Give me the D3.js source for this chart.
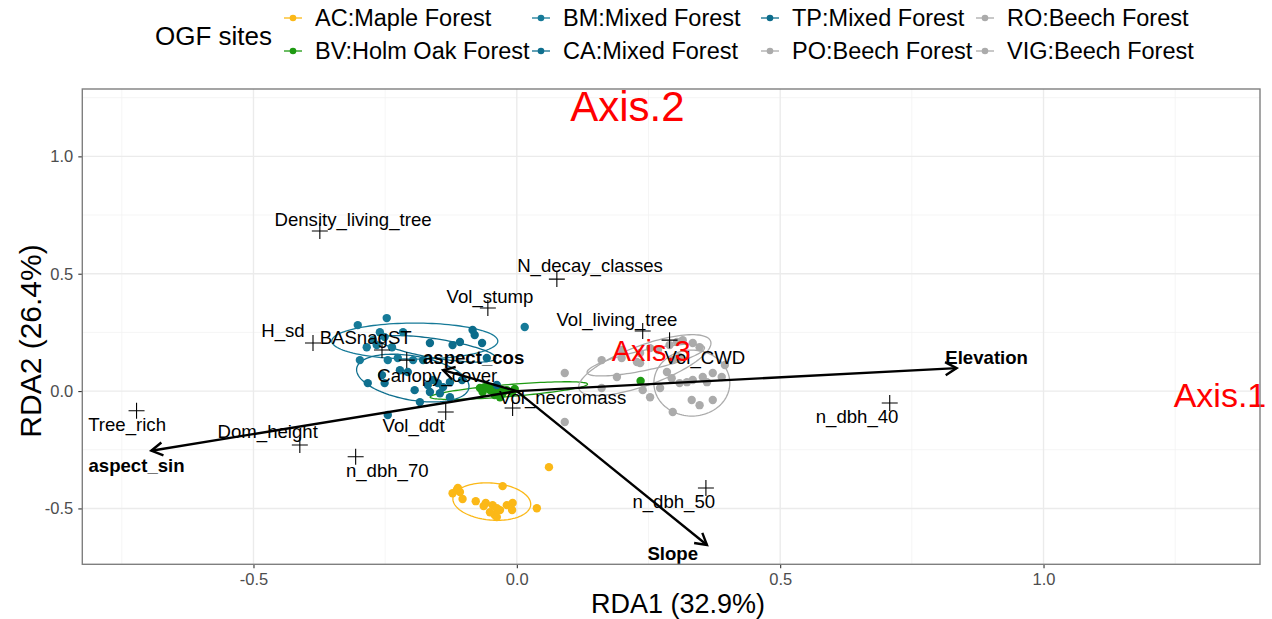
<!DOCTYPE html>
<html>
<head>
<meta charset="utf-8">
<script src="https://cdn.jsdelivr.net/npm/d3@7"></script>
<style>
  body { margin: 0; background: #fff; }
  text { font-family: "Liberation Sans", Arial, Helvetica, sans-serif; }
</style>
</head>
<body>
<svg id="chart" width="1272" height="619"></svg>
<script>
// ---- Site groups (legend order) ----
const siteNames = ["AC:Maple Forest", "BV:Holm Oak Forest", "BM:Mixed Forest", "CA:Mixed Forest",
                   "TP:Mixed Forest", "PO:Beech Forest", "RO:Beech Forest", "VIG:Beech Forest"];
const siteKeys = ["AC", "BV", "BM", "CA", "TP", "PO", "RO", "VIG"];
const siteColors = ["#FBB817", "#1E9A12", "#167A98", "#0F6F8E", "#0C6C8B", "#ABABAB", "#ABABAB", "#ABABAB"];

// ---- Site scores (RDA1, RDA2) ----
const acX = [0.061, -0.114, -0.122, -0.108, -0.103, -0.078, -0.059, -0.046, -0.038, -0.027, -0.019, -0.008, -0.009, -0.032, -0.042, -0.038, 0.038, -0.051, -0.063, -0.112];
const acY = [-0.324, -0.422, -0.435, -0.430, -0.460, -0.469, -0.477, -0.486, -0.499, -0.405, -0.486, -0.477, -0.507, -0.507, -0.528, -0.537, -0.499, -0.516, -0.490, -0.413];

const bvX = [-0.070, -0.061, -0.051, -0.046, -0.038, -0.032, -0.042, -0.027, -0.019, -0.009, -0.004, -0.065, -0.032, -0.057, 0.235];
const bvY = [0.013, 0.017, 0.004, 0.013, -0.004, 0.004, -0.017, -0.009, 0.004, -0.004, 0.009, -0.004, -0.026, 0.017, 0.043];

const bmX = [-0.247, -0.302, -0.260, -0.216, -0.273, -0.251, -0.266, -0.237, -0.285, -0.298, -0.245, -0.226, -0.197, 0.015];
const bmY = [0.311, 0.281, 0.251, 0.251, 0.217, 0.230, 0.196, 0.187, 0.187, 0.132, 0.132, 0.141, 0.132, 0.273];

const caX = [-0.256, -0.251, -0.283, -0.207, -0.194, -0.169, -0.159, -0.150, -0.140, -0.127, -0.165, -0.184, -0.127, -0.245, -0.146, -0.222];
const caY = [0.068, 0.034, 0.034, 0.081, 0.004, 0.026, 0.047, 0.034, 0.017, 0.038, -0.004, -0.047, -0.026, -0.102, -0.009, 0.089];

const tpX = [-0.165, -0.122, -0.108, -0.084, -0.080, -0.066, -0.178, -0.057, -0.104, -0.038];
const tpY = [0.205, 0.196, 0.209, 0.260, 0.239, 0.205, 0.132, 0.141, 0.047, 0.026];

const poX = [0.161, 0.091, 0.190, 0.161, 0.239, 0.199, 0.228, 0.234, 0.253, 0.268, 0.234, 0.199, 0.091, 0.296, 0.309];
const poY = [0.132, 0.077, 0.060, 0.013, 0.004, 0.175, 0.124, 0.162, 0.183, 0.175, 0.119, 0.141, -0.132, 0.132, 0.145];

const roX = [0.253, 0.272, 0.285, 0.294, 0.309, 0.323, 0.334, 0.353, 0.361, 0.372, 0.389, 0.332, 0.347, 0.372, 0.296];
const roY = [-0.026, 0.013, 0.081, 0.055, 0.034, 0.038, 0.047, 0.060, 0.038, 0.077, 0.060, -0.038, -0.060, -0.038, -0.089];

const vigX = [0.290, 0.304, 0.315, 0.334, 0.347, 0.395];
const vigY = [0.196, 0.209, 0.217, 0.205, 0.187, 0.111];

// ---- Group ellipses: centre and two conjugate semi-axis vectors ----
const ellSite = ["AC", "BV", "BM", "CA", "TP", "PO", "RO", "VIG"];
const ellCx = [-0.0475, -0.0152, -0.1937, -0.1975, -0.150, 0.243, 0.3323, 0.2449];
const ellCy = [-0.4708, 0.0021, 0.2130, 0.0554, 0.180, 0.1108, 0.0341, 0.1321];
const ellUx = [0.0738, 0.1494, 0.1576, 0.1065, 0.110, 0.1249, 0.0721, 0.1114];
const ellUy = [-0.0145, 0.0277, 0.0000, -0.0422, -0.040, 0.1018, 0.0000, 0.0533];
const ellVx = [-0.0031, 0.0009, 0.0000, -0.0072, 0.004, 0.0129, 0.0000, 0.0040];
const ellVy = [-0.0785, -0.0255, 0.0767, -0.0925, 0.040, -0.0801, 0.1406, -0.0418];

// ---- Response variables (species scores) ----
const varNames = ["Density_living_tree", "N_decay_classes", "Vol_stump", "Vol_living_tree", "H_sd", "BASnagST",
                  "Canopy_cover", "Vol_ddt", "Vol_necromass", "Vol_CWD", "Tree_rich", "Dom_height",
                  "n_dbh_70", "n_dbh_50", "n_dbh_40"];
const varX = [-0.374, 0.076, -0.055, 0.239, -0.387, -0.256, -0.209, -0.135, -0.008, 0.290, -0.722, -0.412, -0.306, 0.359, 0.708];
const varY = [0.682, 0.477, 0.354, 0.256, 0.205, 0.175, 0.132, -0.089, -0.072, 0.217, -0.084, -0.230, -0.280, -0.413, -0.051];
const varLabX = [-0.311, 0.139, -0.051, 0.190, -0.444, -0.287, -0.151, -0.196, 0.087, 0.357, -0.740, -0.473, -0.246, 0.298, 0.646];
const varLabY = [0.733, 0.533, 0.401, 0.307, 0.256, 0.230, 0.068, -0.145, -0.026, 0.145, -0.141, -0.173, -0.337, -0.469, -0.107];

// ---- Explanatory variables (biplot arrows) ----
const envNames = ["Elevation", "aspect_sin", "Slope", "aspect_cos"];
const envX = [0.835, -0.694, 0.361, -0.140];
const envY = [0.098, -0.254, -0.656, 0.089];
const envLabX = [0.892, -0.722, 0.296, -0.082];
const envLabY = [0.145, -0.315, -0.694, 0.141];

// ---- Axis ticks ----
const xTicks = [-0.5, 0.0, 0.5, 1.0];
const yTicks = [-0.5, 0.0, 0.5, 1.0];
const xMinor = [-0.75, -0.25, 0.25, 0.75, 1.25];
const yMinor = [-0.25, 0.25, 0.75, 1.25];

// ---- Axis annotations ----
const axisNotes = ["Axis.2", "Axis.1", "Axis.3"];
const axisNoteX = [0.210, 1.335, 0.255];
const axisNoteY = [1.212, -0.016, 0.170];
const axisNoteSize = [42, 34, 29];

// ================== drawing ==================
const svg = d3.select("#chart");
const panel = { left: 82.3, right: 1260, top: 89, bottom: 564.3 };

const x = d3.scaleLinear().domain([-0.825, 1.411]).range([panel.left, panel.right]);
const y = d3.scaleLinear().domain([-0.738, 1.287]).range([panel.bottom, panel.top]);

const colorOf = d3.scaleOrdinal().domain(siteKeys).range(siteColors);

// grid
const grid = svg.append("g");
grid.selectAll("line.xmin").data(xMinor).join("line")
  .attr("x1", d => x(d)).attr("x2", d => x(d)).attr("y1", panel.top).attr("y2", panel.bottom)
  .attr("stroke", "#F2F2F2").attr("stroke-width", 0.8);
grid.selectAll("line.ymin").data(yMinor).join("line")
  .attr("y1", d => y(d)).attr("y2", d => y(d)).attr("x1", panel.left).attr("x2", panel.right)
  .attr("stroke", "#F2F2F2").attr("stroke-width", 0.8);
grid.selectAll("line.xmaj").data(xTicks).join("line")
  .attr("x1", d => x(d)).attr("x2", d => x(d)).attr("y1", panel.top).attr("y2", panel.bottom)
  .attr("stroke", "#EBEBEB").attr("stroke-width", 1.4);
grid.selectAll("line.ymaj").data(yTicks).join("line")
  .attr("y1", d => y(d)).attr("y2", d => y(d)).attr("x1", panel.left).attr("x2", panel.right)
  .attr("stroke", "#EBEBEB").attr("stroke-width", 1.4);

// axes
const xAxis = svg.append("g").attr("transform", `translate(0,${panel.bottom})`)
  .call(d3.axisBottom(x).tickValues(xTicks).tickFormat(d3.format(".1f")).tickSize(4).tickPadding(5));
const yAxis = svg.append("g").attr("transform", `translate(${panel.left},0)`)
  .call(d3.axisLeft(y).tickValues(yTicks).tickFormat(d3.format(".1f")).tickSize(4).tickPadding(5));
[xAxis, yAxis].forEach(a => {
  a.select(".domain").remove();
  a.selectAll(".tick line").attr("stroke", "#333333").attr("stroke-width", 1.1);
  a.selectAll(".tick text").attr("fill", "#4D4D4D").style("font-size", "16.5px")
    .style("font-family", '"Liberation Sans", Arial, sans-serif')
    .text(d => d3.format(".1f")(d).replace("−", "-"));
});

// ellipses
const ellLine = d3.line().curve(d3.curveLinearClosed);
const tSteps = d3.range(0, 2 * Math.PI, Math.PI / 60);
svg.append("g").selectAll("path").data(ellSite).join("path")
  .attr("d", (s, i) => ellLine(tSteps.map(t => [
    x(ellCx[i] + ellUx[i] * Math.cos(t) + ellVx[i] * Math.sin(t)),
    y(ellCy[i] + ellUy[i] * Math.cos(t) + ellVy[i] * Math.sin(t))])))
  .attr("fill", "none").attr("stroke", s => colorOf(s)).attr("stroke-width", 1.3);

// points
const groups = [["AC", acX, acY], ["BV", bvX, bvY], ["BM", bmX, bmY], ["CA", caX, caY], ["TP", tpX, tpY],
                ["PO", poX, poY], ["RO", roX, roY], ["VIG", vigX, vigY]];
const pts = svg.append("g");
groups.forEach(([k, xs, ys]) => {
  pts.selectAll(null).data(xs.map((v, i) => [v, ys[i]])).join("circle")
    .attr("cx", d => x(d[0])).attr("cy", d => y(d[1])).attr("r", 4.2)
    .attr("fill", colorOf(k));
});

// arrows
const arrows = svg.append("g");
const headLen = 13, headAng = Math.PI / 6;
envNames.forEach((n, i) => {
  const x0 = x(0), y0 = y(0), x1 = x(envX[i]), y1 = y(envY[i]);
  const a = Math.atan2(y1 - y0, x1 - x0);
  arrows.append("line").attr("x1", x0).attr("y1", y0).attr("x2", x1).attr("y2", y1)
    .attr("stroke", "#000").attr("stroke-width", 2.4);
  arrows.append("path")
    .attr("d", `M${x1 - headLen * Math.cos(a - headAng)},${y1 - headLen * Math.sin(a - headAng)}L${x1},${y1}L${x1 - headLen * Math.cos(a + headAng)},${y1 - headLen * Math.sin(a + headAng)}`)
    .attr("fill", "none").attr("stroke", "#000").attr("stroke-width", 2.4);
});

// variable crosses
const cross = svg.append("g");
const cs = 8;
varNames.forEach((n, i) => {
  const cx = x(varX[i]), cy = y(varY[i]);
  cross.append("path").attr("d", `M${cx - cs},${cy}H${cx + cs}M${cx},${cy - cs}V${cy + cs}`)
    .attr("stroke", "#000").attr("stroke-width", 1.1);
});
// variable labels
svg.append("g").selectAll("text").data(varNames).join("text")
  .attr("x", (d, i) => x(varLabX[i])).attr("y", (d, i) => y(varLabY[i]))
  .attr("text-anchor", "middle").attr("dominant-baseline", "central")
  .style("font-size", "18.6px").attr("fill", "#000").text(d => d);
// arrow labels
svg.append("g").selectAll("text").data(envNames).join("text")
  .attr("x", (d, i) => x(envLabX[i])).attr("y", (d, i) => y(envLabY[i]))
  .attr("text-anchor", "middle").attr("dominant-baseline", "central")
  .style("font-size", "18.6px").style("font-weight", "bold").attr("fill", "#000").text(d => d);

// axis annotations
svg.append("g").selectAll("text").data(axisNotes).join("text")
  .attr("x", (d, i) => x(axisNoteX[i])).attr("y", (d, i) => y(axisNoteY[i]))
  .attr("text-anchor", "middle").attr("dominant-baseline", "central")
  .style("font-size", (d, i) => axisNoteSize[i] + "px").attr("fill", "#FF0000").text(d => d);

// panel border
svg.append("rect").attr("x", panel.left).attr("y", panel.top)
  .attr("width", panel.right - panel.left).attr("height", panel.bottom - panel.top)
  .attr("fill", "none").attr("stroke", "#7F7F7F").attr("stroke-width", 1.4);

// axis titles
svg.append("text").attr("x", 678).attr("y", 604)
  .attr("text-anchor", "middle").attr("dominant-baseline", "central")
  .style("font-size", "27px").text("RDA1 (32.9%)");
svg.append("text").attr("transform", `translate(30,341) rotate(-90)`)
  .attr("text-anchor", "middle").attr("dominant-baseline", "central")
  .style("font-size", "30px").text("RDA2 (26.4%)");

// legend
const legend = svg.append("g");
legend.append("text").attr("x", 155).attr("y", 36).attr("dominant-baseline", "central")
  .style("font-size", "26px").text("OGF sites");
const colX = [293, 541, 770, 985];
const rowY = [18, 51];
siteNames.forEach((n, i) => {
  const cx = colX[Math.floor(i / 2)], cy = rowY[i % 2];
  const k = legend.append("g");
  k.append("line").attr("x1", cx - 9).attr("x2", cx + 9).attr("y1", cy).attr("y2", cy)
    .attr("stroke", siteColors[i]).attr("stroke-width", 1.3);
  k.append("circle").attr("cx", cx).attr("cy", cy).attr("r", 3.3).attr("fill", siteColors[i]);
  k.append("text").attr("x", cx + 22).attr("y", cy).attr("dominant-baseline", "central")
    .style("font-size", "23.5px").text(n);
});
</script>
</body>
</html>
